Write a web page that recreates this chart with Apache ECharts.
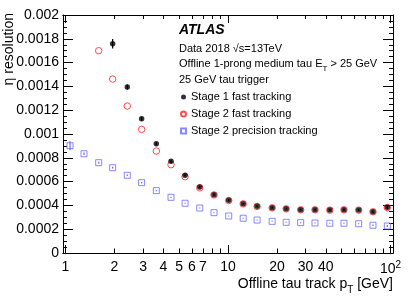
<!DOCTYPE html>
<html><head><meta charset="utf-8">
<script src="https://cdn.jsdelivr.net/npm/echarts@6/dist/echarts.min.js"></script>
<style>html,body{margin:0;padding:0;background:#fff}#c{width:415px;height:298px}</style>
</head><body><div id="c"></div>
<script>
// ---- data ----
const ptBins = [1.066,1.30,1.60,1.95,2.40,2.94,3.62,4.46,5.44,6.70,8.20,10.1,12.4,15.1,18.7,22.8,28.0,34.3,42.3,51.7,63.7,78.0,95.6];
const stage1Fast = [null,null,null,0.001759,0.001395,0.001128,0.000918,0.000771,0.000653,0.000555,0.000490,0.000443,0.000414,0.000392,0.000381,0.000372,0.000364,0.000364,0.000361,0.000364,0.000361,0.000347,0.000384];
const stage1Err = [null,null,null,0.00004,0.000022,0.000018,0.000015,0.000013,0.000011,0.00001,0.000009,0.000008,0.000007,0.000007,0.000007,0.000007,0.000007,0.000007,0.000008,0.000008,0.000009,0.00001,0.000016];
const stage2Fast = [null,null,0.00170,0.001462,0.001235,0.001039,0.000857,0.000742,0.000641,0.000548,0.000488,0.000441,0.000413,0.000391,0.000380,0.000371,0.000363,0.000363,0.000360,0.000363,0.000360,0.000346,0.000382];
const stage2Precision = [0.000902,0.000834,0.000759,0.000717,0.000653,0.000591,0.000524,0.000468,0.000418,0.000378,0.000339,0.000311,0.000292,0.000277,0.000266,0.000258,0.000255,0.000252,0.000250,0.000250,0.000246,0.000233,0.000227];
const precisionErr = [0.000038,0.00001,0.000008,0.000007,0.000006,0.000006,0.000005,0.000005,0.000005,0.000005,0.000004,0.000004,0.000004,0.000004,0.000004,0.000004,0.000004,0.000004,0.000004,0.000005,0.000005,0.000006,0.000008];
const seriesNames = ['Stage 1 fast tracking','Stage 2 fast tracking','Stage 2 precision tracking'];
const xTickValues = [1,2,3,4,5,6,7,8,9,10,20,30,40,50,60,70,80,90,100];
const xMajorTicks = [1,10,100];
const xLabelValues = [1,2,3,4,5,6,7,10,20,30,40,100];
const annotations = ['Data 2018 √s=13TeV','Offline 1-prong medium tau E{sub|T} > 25 GeV','25 GeV tau trigger'];

const FONT = 'Liberation Sans';
const pairs = (vals) => ptBins.map((x,i)=> vals[i]==null?null:[x, vals[i]]).filter(Boolean);
const errPairs = (vals, errs) => ptBins.map((x,i)=> vals[i]==null?null:[x, vals[i]-errs[i], vals[i]+errs[i]]).filter(Boolean);

const X_MIN = 0.965, X_MAX = 103.6;
function xAxisDef(pos, ticks, len, labels){
  return {
    type:'log', logBase:10, min:X_MIN, max:X_MAX, position:pos,
    axisLine:{show: true, lineStyle:{color:'#000', width:1}},
    axisTick:{show:true, inside:true, length:len, customValues:ticks, lineStyle:{color:'#000', width:1}},
    axisLabel: labels ? {show:true, customValues:xLabelValues, margin:7, color:'#000', fontFamily:FONT, fontSize:14,
      formatter: v => (Math.abs(v-100)<1e-6 ? '10{sup|2}' : String(Math.round(v))),
      rich:{sup:{fontSize:10, fontFamily:FONT, color:'#000', padding:[0,0,9,0]}}} : {show:false},
    splitLine:{show:false}, minorTick:{show:false}, minorSplitLine:{show:false}
  };
}
function yAxisDef(pos, labels){
  return {
    type:'value', min:0, max:0.002, interval:0.0002, position:pos,
    axisLine:{show:true, lineStyle:{color:'#000', width:1}},
    axisTick:{show:true, inside:true, length:10, lineStyle:{color:'#000'}},
    minorTick:{show:true, splitNumber:4, length:4, lineStyle:{color:'#000'}},
    axisLabel: labels ? {show:true, margin:4, color:'#000', fontFamily:FONT, fontSize:14,
      formatter: v => v===0 ? '0' : String(+v.toFixed(4))} : {show:false},
    splitLine:{show:false}
  };
}
function errSeries(data, color){
  return {
    type:'custom', xAxisIndex:0, yAxisIndex:0, silent:true, z:3,
    renderItem:(params, api)=>{
      const p1 = api.coord([api.value(0), api.value(1)]);
      const p2 = api.coord([api.value(0), api.value(2)]);
      return {type:'line', shape:{x1:p1[0], y1:p1[1], x2:p2[0], y2:p2[1]}, style:{stroke:color, lineWidth:1.2}};
    },
    data: data
  };
}

const chart = echarts.init(document.getElementById('c'), null, {renderer:'canvas'});
chart.setOption({
  animation:false,
  backgroundColor:'#fff',
  grid:{left:63, right:22, top:15, bottom:45, containLabel:false},
  xAxis:[
    xAxisDef('bottom', xTickValues, 4.5, true),
    xAxisDef('bottom', xMajorTicks, 8, false),
    xAxisDef('top', xTickValues, 4, false),
    xAxisDef('top', xMajorTicks, 8, false)
  ],
  yAxis:[ yAxisDef('left', true), yAxisDef('right', false) ],
  legend:{
    data: seriesNames, orient:'vertical', left:175, top:85.5, padding:5, itemWidth:5, itemHeight:5, itemGap:4,
    textStyle:{fontFamily:FONT, fontSize:11, color:'#000', lineHeight:13}, selectedMode:false
  },
  series:[
    errSeries(errPairs(stage2Precision, precisionErr), '#6a6aff'),
    { name:seriesNames[2], type:'scatter', xAxisIndex:0, yAxisIndex:0, symbol:'rect', symbolSize:6, z:4,
      itemStyle:{color:'rgba(0,0,0,0)', borderColor:'#6a6aff', borderWidth:1}, emphasis:{disabled:true},
      data: pairs(stage2Precision) },
    { name:seriesNames[1], type:'scatter', xAxisIndex:0, yAxisIndex:0, symbol:'circle', symbolSize:6.5, z:4,
      itemStyle:{color:'rgba(0,0,0,0)', borderColor:'#ff2020', borderWidth:1}, emphasis:{disabled:true},
      data: pairs(stage2Fast) },
    errSeries(errPairs(stage1Fast, stage1Err), '#000'),
    { name:seriesNames[0], type:'scatter', xAxisIndex:0, yAxisIndex:0, symbol:'circle', symbolSize:5.5, z:5,
      itemStyle:{color:'#000'}, emphasis:{disabled:true},
      data: pairs(stage1Fast) }
  ],
  graphic:[
    {type:'text', x:179, y:30.5, style:{text:'ATLAS', font:'italic bold 14px "'+FONT+'"', fill:'#000', verticalAlign:'middle'}},
    {type:'text', x:179, y:49, style:{text:annotations[0], font:'11px "'+FONT+'"', fill:'#000', verticalAlign:'middle'}},
    {type:'text', x:179, y:64, style:{text:annotations[1], font:'11px "'+FONT+'"', fill:'#000', verticalAlign:'middle',
      rich:{sub:{fontSize:8, fontFamily:FONT, padding:[10,0,0,0]}}}},
    {type:'text', x:179, y:80, style:{text:annotations[2], font:'11px "'+FONT+'"', fill:'#000', verticalAlign:'middle'}},
    {type:'text', right:22, top:277, style:{text:'Offline tau track p{sub|T} [GeV]', font:'14px "'+FONT+'"', fill:'#000',
      rich:{sub:{fontSize:10, fontFamily:FONT, padding:[12,0,0,0]}}}},
    {type:'text', x:9.5, y:13, rotation:Math.PI/2, style:{text:'η resolution', font:'14px "'+FONT+'"', fill:'#000', align:'right', verticalAlign:'middle'}}
  ]
});
</script></body></html>
